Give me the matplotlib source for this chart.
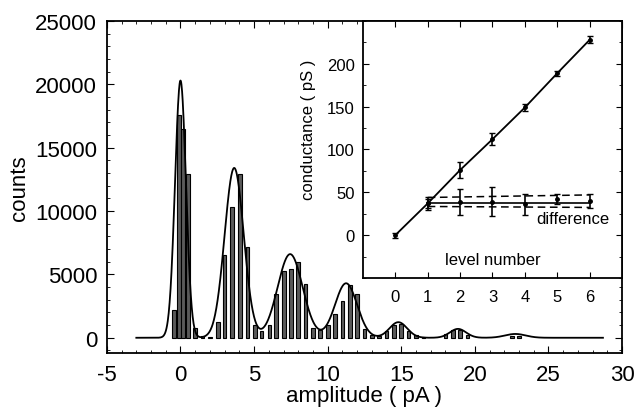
import numpy as np
import matplotlib
matplotlib.use("Agg")
import matplotlib.pyplot as plt
from matplotlib.ticker import MultipleLocator

plt.rcParams['font.family'] = ['Liberation Sans', 'DejaVu Sans']
plt.rcParams['axes.unicode_minus'] = False

# histogram bars (amplitude bin centre, counts)
bin_pos = [-0.45, -0.1, 0.15, 0.5, 1.0, 1.5, 2.0, 2.55, 3.0, 3.5, 4.05, 4.55,
           5.05, 5.5, 6.05, 6.5, 7.05, 7.5, 8.0, 8.5, 9.0, 9.5, 10.0, 10.5,
           11.0, 11.5, 12.0, 12.5, 13.0, 13.5, 14.0, 14.5, 15.0, 15.5, 16.0,
           16.5, 18.0, 18.5, 19.0, 19.5, 22.5, 23.0]
bin_counts = [2200, 17600, 16500, 12900, 800, 100, 50, 1230, 6530, 10300, 12900, 7200,
              970, 500, 970, 3460, 5300, 5430, 6000, 4250, 760, 575, 970, 1900,
              2940, 4200, 3460, 700, 250, 150, 500, 1000, 1100, 500, 200,
              80, 300, 650, 600, 200, 150, 150]

# multi-gaussian fit: peak centres, heights, widths
peak_center = [0.0, 3.65, 7.45, 11.25, 14.8, 18.85, 22.75]
peak_height = [20300, 13400, 6600, 4300, 1230, 700, 300]
peak_sigma = [0.37, 0.65, 0.85, 0.75, 0.6, 0.55, 0.7]
fit_range = (-3.0, 28.7)

# inset: conductance per level
levels = [0, 1, 2, 3, 4, 5, 6]
conductance = [0, 37, 76, 112, 149, 189, 228]
cond_err = [3, 5, 9, 7, 4, 3, 4]

diff_levels = [1, 2, 3, 4, 5, 6]
difference = [37, 39, 39, 36, 42, 40]
diff_err = [8, 15, 17, 12, 6, 8]
diff_mean = [37.5, 37.5]
diff_upper = [44, 47]
diff_lower = [33.5, 32.4]

fig = plt.figure(figsize=(6.4, 4.14), dpi=100)
ax = fig.add_axes([0.167, 0.145, 0.805, 0.802])

ax.bar(bin_pos, bin_counts, width=0.25, facecolor='#5a5a5a', edgecolor='black', linewidth=0.8)
xs = np.linspace(fit_range[0], fit_range[1], 1500)
ys = np.zeros_like(xs)
for c, h, s in zip(peak_center, peak_height, peak_sigma):
    ys += h * np.exp(-(xs - c) ** 2 / (2 * s ** 2))
ax.plot(xs, ys, color='black', lw=1.3)

ax.set_xlim(-5, 30)
ax.set_ylim(-1200, 25000)
ax.xaxis.set_major_locator(MultipleLocator(5))
ax.xaxis.set_minor_locator(MultipleLocator(1))
ax.yaxis.set_major_locator(MultipleLocator(5000))
ax.yaxis.set_minor_locator(MultipleLocator(1000))
ax.tick_params(which='both', direction='in', top=True, right=True, labelsize=16)
ax.tick_params(axis='x', which='major', pad=8)
ax.tick_params(axis='y', which='major', pad=7)
ax.tick_params(which='major', length=5)
ax.tick_params(which='minor', length=2.5)
ax.set_xlabel('amplitude ( pA )', fontsize=16, labelpad=0)
ax.set_ylabel('counts', fontsize=16, labelpad=4)
for s in ax.spines.values():
    s.set_linewidth(1.3)

# inset
ax_in = fig.add_axes([0.567, 0.326, 0.405, 0.621])
ax_in.errorbar(levels, conductance, yerr=cond_err, color='black', lw=1.3,
               marker='o', ms=2.5, capsize=2.5, elinewidth=1.2)
ax_in.errorbar(diff_levels, difference, yerr=diff_err, fmt='o', color='black',
               ms=2.5, capsize=2.5, elinewidth=1.2)
ax_in.plot([diff_levels[0], diff_levels[-1]], diff_mean, color='black', lw=1.2)
ax_in.plot([diff_levels[0], diff_levels[-1]], diff_upper, color='black', lw=1.1, ls=(0, (5, 3)))
ax_in.plot([diff_levels[0], diff_levels[-1]], diff_lower, color='black', lw=1.1, ls=(0, (5, 3)))

ax_in.text(4.35, 19, 'difference', fontsize=12, va='center', ha='left')
ax_in.text(3.0, -28, 'level number', fontsize=12, va='center', ha='center')

ax_in.set_xlim(-1, 7)
ax_in.set_ylim(-50, 250)
ax_in.set_xticks(levels)
ax_in.set_yticks([0, 50, 100, 150, 200])
ax_in.yaxis.set_minor_locator(MultipleLocator(25))
ax_in.tick_params(which='both', direction='in', top=True, right=True, labelsize=12)
ax_in.tick_params(axis='x', pad=8)
ax_in.tick_params(axis='y', pad=6)
ax_in.tick_params(which='major', length=4)
ax_in.tick_params(which='minor', length=2)
ax_in.set_ylabel('conductance ( pS )', fontsize=12)
ax_in.yaxis.set_label_coords(-0.18, 0.58)
for s in ax_in.spines.values():
    s.set_linewidth(1.3)

fig.savefig('out.png', dpi=100)
